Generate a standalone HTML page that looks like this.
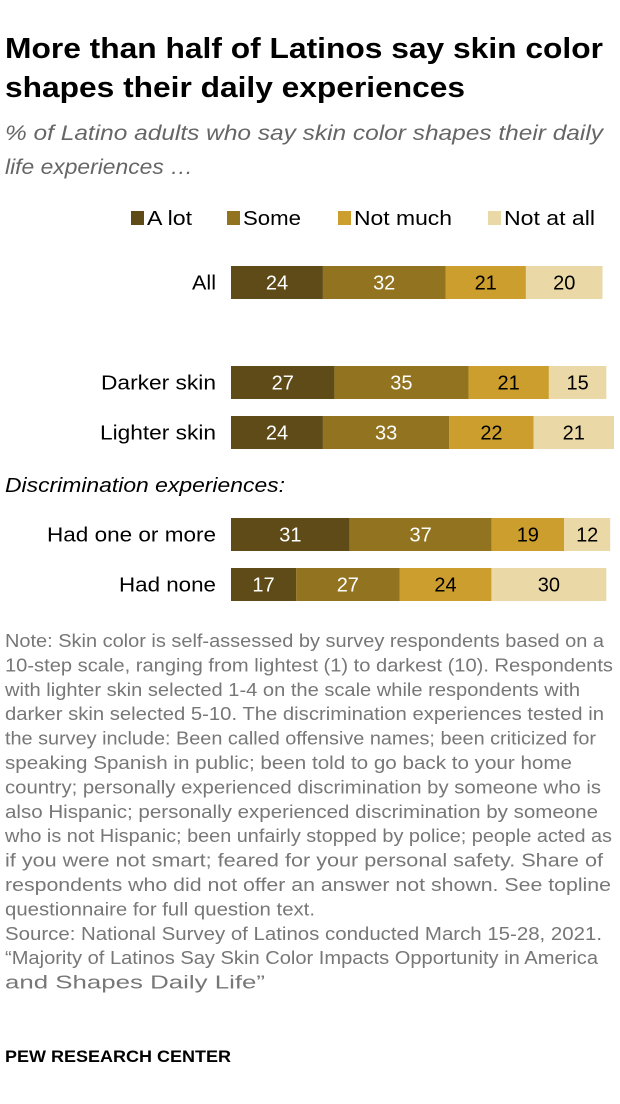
<!DOCTYPE html>
<html><head><meta charset="utf-8"><style>
body{margin:0;background:#fff}
svg{display:block;font-family:"Liberation Sans",sans-serif}
</style></head><body>
<svg id="c" width="620" height="1104" viewBox="0 0 620 1104">
<g font-weight="bold" font-size="29" fill="#000">
<text x="5" y="58" textLength="598" lengthAdjust="spacingAndGlyphs">More than half of Latinos say skin color</text>
<text x="5" y="97" textLength="460" lengthAdjust="spacingAndGlyphs">shapes their daily experiences</text>
</g>
<g font-style="italic" font-size="21" fill="#666">
<text x="5" y="140" textLength="598" lengthAdjust="spacingAndGlyphs">% of Latino adults who say skin color shapes their daily</text>
<text x="5" y="174" textLength="188" lengthAdjust="spacingAndGlyphs">life experiences …</text>
</g>
<g id="legend" font-size="20" fill="#000"></g>
<g id="bars"></g>
<text x="5" y="492" font-size="20" font-style="italic" textLength="280" lengthAdjust="spacingAndGlyphs">Discrimination experiences:</text>
<g id="note" font-size="18" fill="#777"></g>
<text x="5" y="1062" font-size="17" font-weight="bold" fill="#000" textLength="226" lengthAdjust="spacingAndGlyphs">PEW RESEARCH CENTER</text>
</svg>
<script>
const categories=["All","Darker skin","Lighter skin","Had one or more","Had none"];
const alot=[24,27,24,31,17];
const some=[32,35,33,37,27];
const notmuch=[21,21,22,19,24];
const notatall=[20,15,21,12,30];
const seriesNames=["A lot","Some","Not much","Not at all"];
const ns="http://www.w3.org/2000/svg";
const colors=["#5f4b18","#917320","#cb9e2e","#ead9a6"];
const textCol=["#fff","#fff","#000","#000"];
const rowY=[266,366,416,518,568];
const labLen=[24,115,116,169,97];
const x0=231,ppu=3.83,bh=33;
const xs=v=>v*ppu;
function mk(t,a,p){const e=document.createElementNS(ns,t);for(const k in a)e.setAttribute(k,a[k]);p.appendChild(e);return e;}
const bars=document.getElementById('bars');
const series=[alot,some,notmuch,notatall];
categories.forEach((c,i)=>{
  const lab=mk('text',{x:216-labLen[i],y:rowY[i]+bh/2+7,'font-size':20,textLength:labLen[i],lengthAdjust:'spacingAndGlyphs'},bars);
  lab.textContent=c;
  
  
  let x=x0;
  series.forEach((s,j)=>{
    const w=xs(s[i]);
    const r=mk('rect',{x:x,y:rowY[i],width:w,height:bh,fill:colors[j]},bars);
    
    
    const t=mk('text',{x:x+w/2,y:rowY[i]+bh/2+7,'text-anchor':'middle','font-size':20,fill:textCol[j]},bars);
    t.textContent=s[i];
    
    
    x+=w;
  });
});
const lg=document.getElementById('legend');
const lx=[131,227,338,488];
const lw=[45,58,98,91];
seriesNames.forEach((n,j)=>{
  const r=mk('rect',{x:lx[j],y:211,width:13,height:14,fill:colors[j]},lg);
  
  
  const t=mk('text',{x:lx[j]+16,y:225,textLength:lw[j],lengthAdjust:'spacingAndGlyphs'},lg);
  t.textContent=n;
  
  
});
const lines=[
["Note: Skin color is self-assessed by survey respondents based on a",599],
["10-step scale, ranging from lightest (1) to darkest (10). Respondents",608],
["with lighter skin selected 1-4 on the scale while respondents with",575],
["darker skin selected 5-10. The discrimination experiences tested in",599],
["the survey include: Been called offensive names; been criticized for",591],
["speaking Spanish in public; been told to go back to your home",567],
["country; personally experienced discrimination by someone who is",596],
["also Hispanic; personally experienced discrimination by someone",593],
["who is not Hispanic; been unfairly stopped by police; people acted as",607],
["if you were not smart; feared for your personal safety. Share of",598],
["respondents who did not offer an answer not shown. See topline",606],
["questionnaire for full question text.",310],
["Source: National Survey of Latinos conducted March 15-28, 2021.",597],
["“Majority of Latinos Say Skin Color Impacts Opportunity in America",593],
["and Shapes Daily Life”",260]];
const nt=document.getElementById('note');
lines.forEach((l,i)=>{
  const t=mk('text',{x:5,y:647+i*24.4,textLength:l[1],lengthAdjust:'spacingAndGlyphs'},nt);
  t.textContent=l[0];
  
  
});
</script>
</body></html>
